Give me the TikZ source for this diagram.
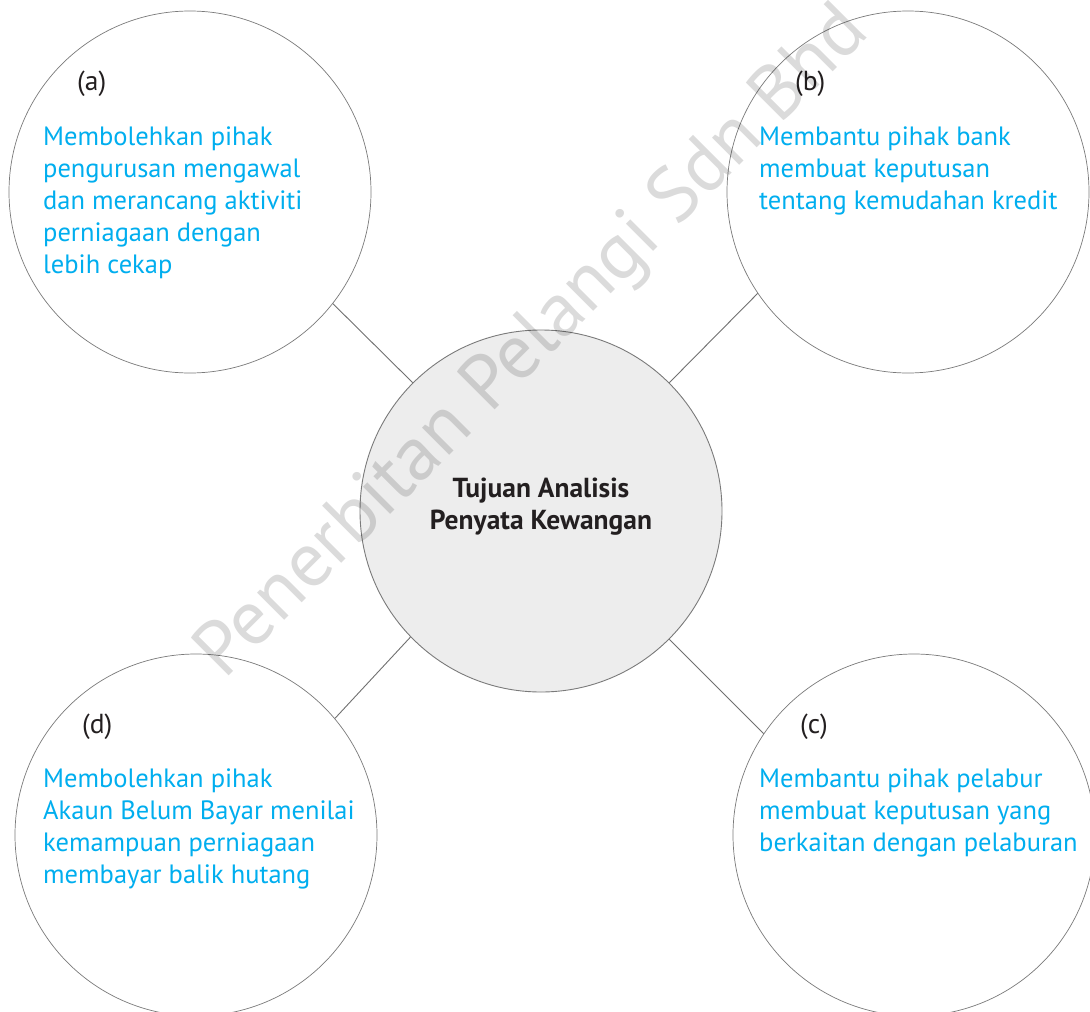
\documentclass[tikz,border=0pt]{standalone}
\usepackage{fontspec}
\setmainfont{PT Sans}
\definecolor{txtblue}{HTML}{00AEEF}
\definecolor{bordergray}{HTML}{7A7A7A}
\definecolor{hubborder}{HTML}{7A7A7A}
\definecolor{hubfill}{HTML}{EDEDED}
\definecolor{linkgray}{HTML}{707070}
\definecolor{tagblack}{HTML}{231F20}
\begin{document}
\begin{tikzpicture}[x=1pt,y=-1pt,
  bubble/.style={circle, draw=bordergray, line width=0.7pt, minimum size=362pt, inner sep=0pt},
  hub/.style={bubble, fill=hubfill, draw=hubborder, line width=0.9pt},
  link/.style={draw=linkgray, line width=0.9pt},
  tag/.style={anchor=base west, inner sep=0pt, font=\fontsize{27.5}{32}\selectfont, text=tagblack},
  body/.style={anchor=base west, inner sep=0pt, font=\fontsize{26.5}{32}\selectfont, text=txtblue},
  hubtext/.style={anchor=base, inner sep=0pt, font=\bfseries\fontsize{27.5}{32}\selectfont, text=tagblack},
  wmark/.style={rotate=45, inner sep=0pt, font=\fontsize{77}{77}\selectfont, text=black, opacity=0.14}
]
\useasboundingbox (0,0) rectangle (1090,1012);
\fill[white] (0,0) rectangle (1090,1012);
% circles
\node[bubble] (a) at (190,192) {};
\node[bubble] (b) at (908,192) {};
\node[bubble] (d) at (196,835) {};
\node[bubble] (c) at (914,835) {};
\node[hub] (hub) at (541,511) {};
% connectors
\draw[link] (a.-38) -- (hub.135.4);
\draw[link] (b.214.5) -- (hub.45);
\draw[link] (d.40.3) -- (hub.224.8);
\draw[link] (c.146) -- (hub.-45);
% hub text
\node[hubtext] (ht) at (541,497) {\begin{tabular}[t]{@{}c@{}}Tujuan Analisis\\Penyata Kewangan\end{tabular}};
% labels
\node[tag] (la) at (77,90) {(a)};
\node[tag] (lb) at (795,90) {(b)};
\node[tag] (ld) at (82,733) {(d)};
\node[tag] (lc) at (800,733) {(c)};
% bodies
\node[body] (ta) at (43,145) {\begin{tabular}[t]{@{}l@{}}Membolehkan pihak\\pengurusan mengawal\\dan merancang aktiviti\\perniagaan dengan\\lebih cekap\end{tabular}};
\node[body] (tb) at (759,145) {\begin{tabular}[t]{@{}l@{}}Membantu pihak bank\\membuat keputusan\\tentang kemudahan kredit\end{tabular}};
\node[body] (td) at (43,787) {\begin{tabular}[t]{@{}l@{}}Membolehkan pihak\\Akaun Belum Bayar menilai\\kemampuan perniagaan\\membayar balik hutang\end{tabular}};
\node[body] (tc) at (759,787) {\begin{tabular}[t]{@{}l@{}}Membantu pihak pelabur\\membuat keputusan yang\\berkaitan dengan pelaburan\end{tabular}};
% watermark
\node[wmark] (wm) at (534,344) {Penerbitan Pelangi Sdn Bhd};
\end{tikzpicture}
\end{document}
